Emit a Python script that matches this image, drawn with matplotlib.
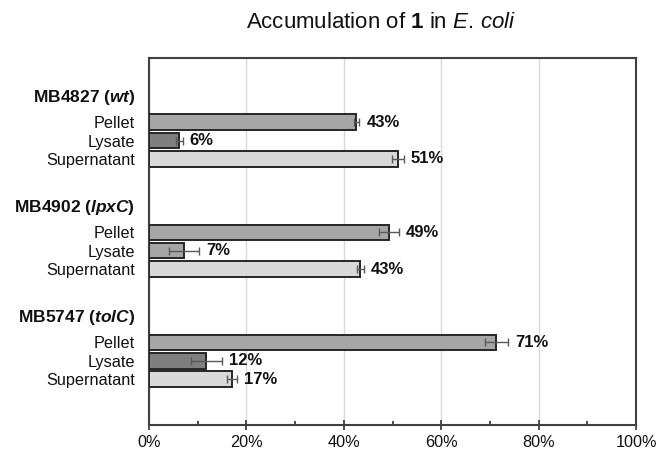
import matplotlib.pyplot as plt
from matplotlib.ticker import MultipleLocator, FuncFormatter

plt.rcParams['font.family'] = ['Liberation Sans', 'DejaVu Sans']
plt.rcParams['mathtext.fontset'] = 'custom'
plt.rcParams['mathtext.rm'] = 'Liberation Sans'
plt.rcParams['mathtext.it'] = 'Liberation Sans:italic'
plt.rcParams['mathtext.bf'] = 'Liberation Sans:bold'
plt.rcParams['mathtext.bfit'] = 'Liberation Sans:bold:italic'

# Data (percent of total compound)
strains = ["MB4827", "MB4902", "MB5747"]
genotypes = ["wt", "lpxC", "tolC"]
fractions = ["Pellet", "Lysate", "Supernatant"]
pellet = [42.6, 49.3, 71.3]
pellet_err = [0.6, 2.0, 2.4]
lysate = [6.2, 7.2, 11.8]
lysate_err = [0.7, 3.1, 3.2]
supernatant = [51.1, 43.4, 17.0]
supernatant_err = [1.2, 0.7, 1.0]

pellet_color = "#a6a6a6"
lysate_colors = ["#7f7f7f", "#a6a6a6", "#7f7f7f"]
sup_color = "#d9d9d9"

fig = plt.figure(figsize=(6.59, 4.5), dpi=100)
ax = fig.add_axes([0.2261, 0.0556, 0.9651 - 0.2261, 0.8711 - 0.0556])

ticks = []
ticklabels = []
for i, strain in enumerate(strains):
    base = i * 6
    ticks.append(base)
    ticklabels.append(r"$\mathbf{%s\ (}\mathbfit{%s}\mathbf{)}$" % (strain, genotypes[i]))
    groups = [
        (pellet[i], pellet_err[i], pellet_color),
        (lysate[i], lysate_err[i], lysate_colors[i]),
        (supernatant[i], supernatant_err[i], sup_color),
    ]
    for j, (val, err, col) in enumerate(groups):
        y = base + 1.5 + j
        ax.barh(y, val, height=0.85, color=col, edgecolor="#262626", linewidth=1.4, zorder=3)
        ax.errorbar(val, y, xerr=err, fmt="none", ecolor="#595959", elinewidth=1,
                    capsize=3, capthick=1, zorder=4)
        ax.annotate(f"{round(val)}%", xy=(val + err, y), xytext=(5, 0),
                    textcoords="offset points", va="center", ha="left",
                    fontsize=12, fontweight="bold", color="#111111")
        ticks.append(y)
        ticklabels.append(fractions[j])

ax.set_yticks(ticks)
ax.set_yticklabels(ticklabels)
for lab in ax.get_yticklabels():
    if lab.get_text().startswith("$"):
        lab.set_fontsize(12.5)
    else:
        lab.set_fontsize(11.7)
ax.tick_params(axis="y", length=0, pad=10, colors="#111111")

ax.set_ylim(18, -2)
ax.set_xlim(0, 100)
ax.xaxis.set_major_locator(MultipleLocator(20))
ax.xaxis.set_minor_locator(MultipleLocator(10))
ax.xaxis.set_major_formatter(FuncFormatter(lambda v, p: f"{v:.0f}%"))
ax.tick_params(axis="x", which="major", direction="inout", length=7, width=1.3,
               color="#404040", labelsize=11.7, labelcolor="#111111", pad=4)
ax.tick_params(axis="x", which="minor", direction="in", length=3, width=1.3, color="#404040")

ax.grid(axis="x", which="major", color="#d9d9d9", linewidth=1, zorder=0)
ax.set_axisbelow(True)
for sp in ax.spines.values():
    sp.set_color("#404040")
    sp.set_linewidth(1.5)

fig.text(381 / 659, 1 - 22 / 450, r"Accumulation of $\mathbf{1}$ in $\mathit{E.\,coli}$",
         ha="center", va="center", fontsize=16, color="#111111")

fig.savefig("out.png", dpi=100)
